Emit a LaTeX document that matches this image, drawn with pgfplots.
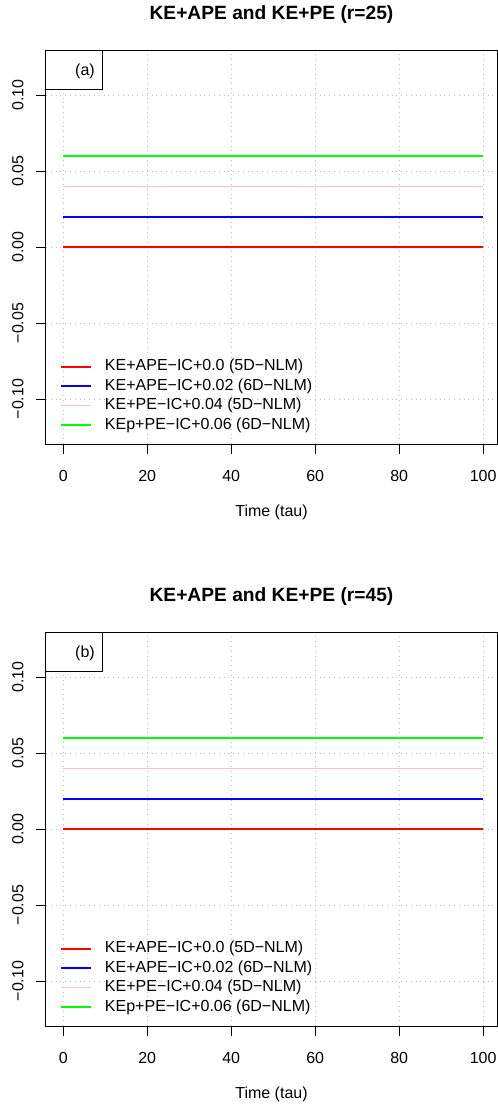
\documentclass[border=0pt]{standalone}
\usepackage{fontspec}
\setmainfont{Liberation Sans}
\usepackage{pgfplots}
\pgfplotsset{compat=1.18}
\definecolor{rpink}{RGB}{255,192,203}
\definecolor{rgreen}{RGB}{0,255,0}
\definecolor{rblue}{RGB}{0,0,255}
\definecolor{rred}{RGB}{255,0,0}
\newcommand{\fs}{\fontsize{8}{9.6}\selectfont}
\pgfplotsset{rstyle/.style={
  scale only axis, width=225.5pt, height=197pt,
  xmin=-4.1, xmax=103.3, ymin=-0.1296, ymax=0.1296,
  xtick={0,20,40,60,80,100},
  ytick={-0.10,-0.05,0,0.05,0.10},
  yticklabels={−0.10,−0.05,0.00,0.05,0.10},
  xtick pos=left, ytick pos=left,
  tick align=outside, major tick length=5pt,
  every tick/.style={black, line width=0.5pt},
  axis line style={line width=0.5pt, black},
  grid=major, grid style={dotted, line width=0.5pt, color=lightgray},
  font=\fs, ticklabel style={font=\fs},
  /pgf/number format/assume math mode=true,
  yticklabel style={rotate=90, anchor=south, inner sep=0pt, yshift=6pt},
  xticklabel style={anchor=north, inner sep=0pt, yshift=-7.75pt},
  xlabel style={at={(axis description cs:0.5,0)}, anchor=center, yshift=-34pt, font=\fs},
  title style={at={(axis description cs:0.5,1)}, anchor=center, yshift=11.5pt, font=\fontsize{9.6}{11.5}\selectfont\bfseries},
  legend cell align=left,
  legend style={at={(rel axis cs:0,0)}, anchor=south west, xshift=7pt, yshift=5.5pt,
    draw=none, fill=none, inner sep=0pt, outer sep=0pt, row sep=1.7pt, font=\fs,
    nodes={inner sep=0pt, text height=6pt, text depth=2pt},
    /tikz/every odd column/.append style={column sep=6.5pt}},
  legend image code/.code={\draw[#1] (0pt,0pt) -- (15pt,0pt);},
}}
\begin{document}
\begin{tikzpicture}
\useasboundingbox (0,0) rectangle (249pt,-554.5pt);
% panel (a)
\begin{axis}[rstyle, at={(23pt,-222pt)}, anchor=south west,
  title={KE+APE and KE+PE (r=25)}, xlabel={Time (tau)}]
\addplot[color=red, line width=1pt] coordinates {(0,0) (100,0)};
\addplot[color=rblue, line width=1pt] coordinates {(0,0.02) (100,0.02)};
\addplot[color=rpink, line width=0.6pt] coordinates {(0,0.04) (100,0.04)};
\addplot[color=rgreen, line width=1pt] coordinates {(0,0.06) (100,0.06)};
\legend{KE+APE−IC+0.0 (5D−NLM),KE+APE−IC+0.02 (6D−NLM),KE+PE−IC+0.04 (5D−NLM),KEp+PE−IC+0.06 (6D−NLM)}
\draw[line width=0.5pt, fill=white] (rel axis cs:0,1) rectangle ++(28pt,-19.5pt);
\node[font=\fs] at ([xshift=19.5pt,yshift=-10.5pt]rel axis cs:0,1) {(a)};
\end{axis}
% panel (b)
\begin{axis}[rstyle, at={(23pt,-513pt)}, anchor=south west,
  title={KE+APE and KE+PE (r=45)}, xlabel={Time (tau)}]
\addplot[color=red, line width=1pt] coordinates {(0,0) (100,0)};
\addplot[color=rblue, line width=1pt] coordinates {(0,0.02) (100,0.02)};
\addplot[color=rpink, line width=0.6pt] coordinates {(0,0.04) (100,0.04)};
\addplot[color=rgreen, line width=1pt] coordinates {(0,0.06) (100,0.06)};
\legend{KE+APE−IC+0.0 (5D−NLM),KE+APE−IC+0.02 (6D−NLM),KE+PE−IC+0.04 (5D−NLM),KEp+PE−IC+0.06 (6D−NLM)}
\draw[line width=0.5pt, fill=white] (rel axis cs:0,1) rectangle ++(28pt,-19.5pt);
\node[font=\fs] at ([xshift=19.5pt,yshift=-10.5pt]rel axis cs:0,1) {(b)};
\end{axis}
\end{tikzpicture}
\end{document}
